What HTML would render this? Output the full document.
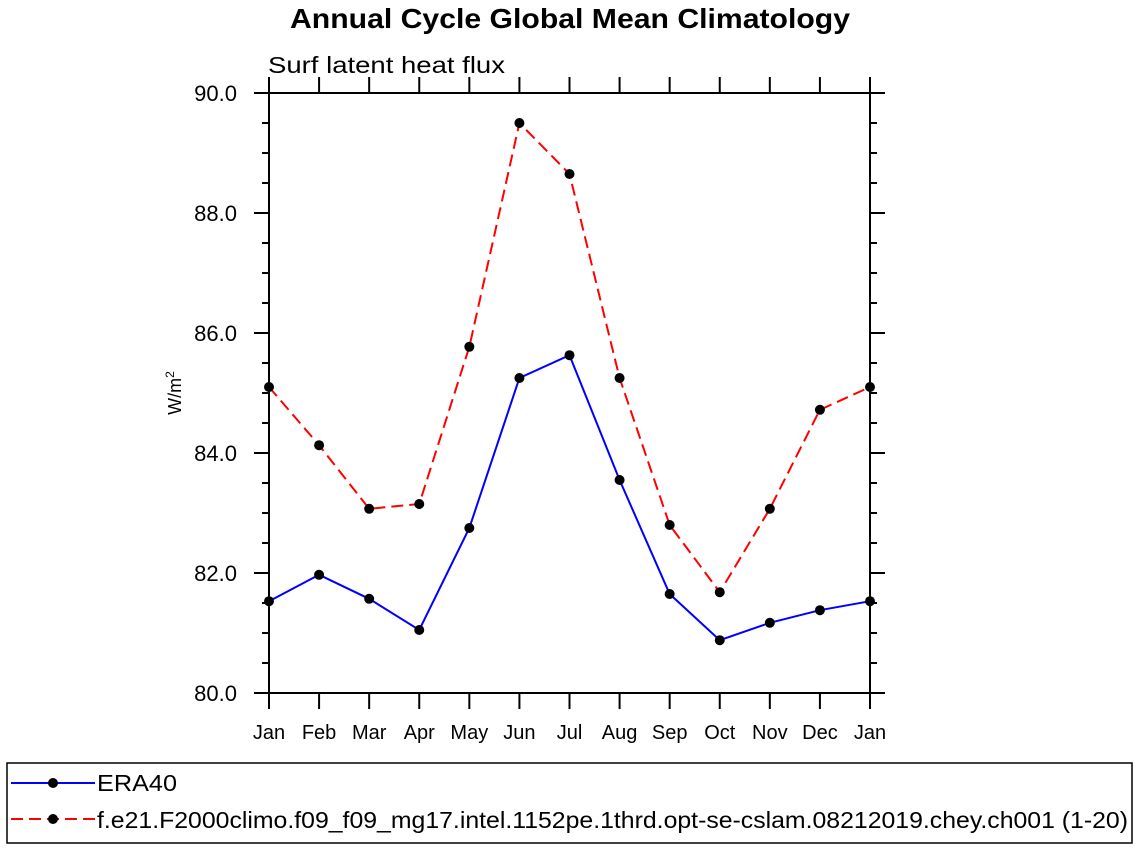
<!DOCTYPE html>
<html><head><meta charset="utf-8"><style>
body{margin:0;background:#fff;width:1138px;height:849px;overflow:hidden;font-family:"Liberation Sans",sans-serif}
</style></head><body>
<svg id="chart" width="1138" height="849" xmlns="http://www.w3.org/2000/svg" font-family="Liberation Sans, sans-serif">
<text x="290" y="28" font-size="28" font-weight="bold" textLength="560" lengthAdjust="spacingAndGlyphs">Annual Cycle Global Mean Climatology</text>
<text x="268" y="73" font-size="23" textLength="237" lengthAdjust="spacingAndGlyphs">Surf latent heat flux</text>
<text transform="translate(181,393) rotate(-90)" text-anchor="middle" font-size="18">W/m<tspan dy="-7" font-size="12">2</tspan></text>
<g id="axes"></g><g id="series"></g>
<g>
<rect x="7" y="763" width="1125" height="80" fill="none" stroke="#000" stroke-width="1.5"/>
<g>
<line x1="11" y1="783" x2="95" y2="783" stroke="#0000ff" stroke-width="2"/><circle cx="53" cy="783" r="5" fill="#000"/>
<text x="97" y="791" font-size="23" textLength="80" lengthAdjust="spacingAndGlyphs">ERA40</text></g>
<g>
<line x1="11" y1="819" x2="95" y2="819" stroke="#ff0000" stroke-width="2" stroke-dasharray="12,6"/><circle cx="53" cy="819" r="5" fill="#000"/>
<text x="97" y="828" font-size="23" textLength="1031" lengthAdjust="spacingAndGlyphs">f.e21.F2000climo.f09_f09_mg17.intel.1152pe.1thrd.opt-se-cslam.08212019.chey.ch001 (1-20)</text></g>
</g>
</svg>
<script>
const months=["Jan","Feb","Mar","Apr","May","Jun","Jul","Aug","Sep","Oct","Nov","Dec","Jan"];
const era40=[81.53,81.97,81.57,81.05,82.75,85.25,85.63,83.55,81.65,80.88,81.17,81.38,81.53];
const model=[85.1,84.13,83.07,83.15,85.77,89.5,88.65,85.25,82.8,81.68,83.07,84.72,85.1];
const yTicks=[80,82,84,86,88,90];
const L=269,R=870,T=93,B=693,y0=80,y1=90;
const xs=i=>L+(R-L)*i/(months.length-1);
const ys=v=>B-(v-y0)/(y1-y0)*(B-T);
const NS="http://www.w3.org/2000/svg";
function mk(p,t,a){const e=document.createElementNS(NS,t);for(const k in a)e.setAttribute(k,a[k]);p.appendChild(e);return e;}
const ax=document.getElementById('axes');
const frame=mk(ax,'rect',{x:L,y:T,width:R-L,height:B-T,fill:'none',stroke:'#000','stroke-width':2});


for(let v=y0;v<=y1+1e-9;v+=0.5){
 const maj=Math.abs(v/2-Math.round(v/2))<1e-6;const len=maj?15:7;const y=ys(v);
 mk(ax,'line',{x1:L-len,y1:y,x2:L,y2:y,stroke:'#000','stroke-width':2});
 mk(ax,'line',{x1:R,y1:y,x2:R+len,y2:y,stroke:'#000','stroke-width':2});
}
yTicks.forEach(v=>{const t=mk(ax,'text',{x:237,y:ys(v)+8,'text-anchor':'end','font-size':22});t.textContent=v.toFixed(1);

});
months.forEach((m,i)=>{const x=xs(i);
 mk(ax,'line',{x1:x,y1:B,x2:x,y2:B+16,stroke:'#000','stroke-width':2});
 mk(ax,'line',{x1:x,y1:T-16,x2:x,y2:T,stroke:'#000','stroke-width':2});
 const t=mk(ax,'text',{x:x,y:739,'text-anchor':'middle','font-size':20});t.textContent=m;
 
 });
const sg=document.getElementById('series');
function draw(arr,col,dash,name){
 const p=mk(sg,'polyline',{points:arr.map((v,i)=>xs(i)+','+ys(v)).join(' '),fill:'none',stroke:col,'stroke-width':2});
 if(dash)p.setAttribute('stroke-dasharray',dash);
 
 
 arr.forEach((v,i)=>{const c=mk(sg,'circle',{cx:xs(i),cy:ys(v),r:5,fill:'#000'});
  
  });
}
draw(era40,'#0000ff',null,'era40');
draw(model,'#ff0000','12,6','model');
</script>
</body></html>
